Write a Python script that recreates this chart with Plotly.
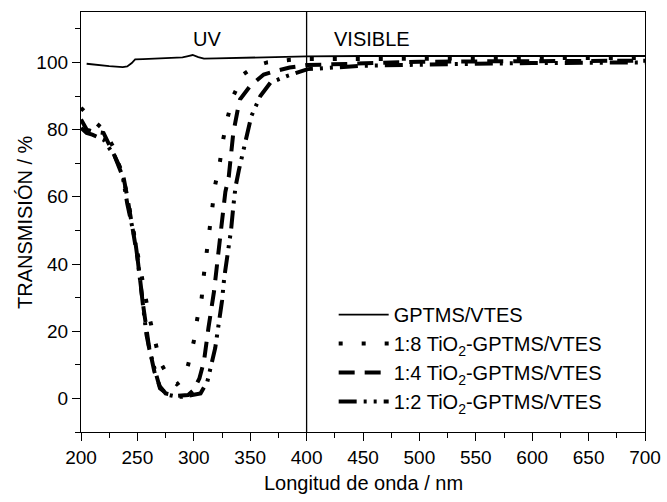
import plotly.graph_objects as go

# ---- data ----
x_ref = [205, 215, 225, 237, 241, 245, 248, 255, 265, 280, 290, 295, 299, 304, 309, 320, 340, 360, 380, 400, 450, 500, 550, 600, 650, 700]
y_ref = [99.6, 99.2, 98.9, 98.6, 98.8, 99.8, 100.9, 101.0, 101.1, 101.2, 101.5, 101.9, 102.2, 101.6, 101.1, 101.2, 101.4, 101.6, 101.7, 101.8, 101.9, 101.9, 101.9, 101.9, 101.9, 101.9]

x_18 = [200, 210, 220, 230, 240, 250, 260, 270, 278, 285, 290, 295, 300, 303, 307, 309, 311, 314, 316.5, 319, 323, 326, 330, 335, 344, 355, 365, 386, 400, 450, 500, 550, 600, 650, 700]
y_18 = [86.5, 83, 80, 74, 62, 44, 25, 11, 6, 4.2, 5.5, 10, 17, 23.6, 30, 37, 43, 50, 57, 63.6, 70, 77, 83.6, 90, 96.5, 99, 100, 100.8, 101, 101, 101.2, 101.2, 101.3, 101.3, 101.3]

x_14 = [200, 205, 210, 220, 230, 237, 241, 246, 250, 255, 260, 265, 270, 275, 285, 295, 300, 305, 309, 313, 318, 321, 324, 326, 328, 331, 333, 335, 339, 341, 350, 362, 371, 385, 400, 450, 500, 550, 600, 650, 700]
y_14 = [83, 80, 79.5, 79, 72, 67, 60, 50, 42, 28, 16, 8, 3.5, 1.5, 0.8, 1.0, 2.5, 6, 11, 21, 32, 41, 49, 55, 61.5, 66, 73, 79, 86, 89, 93, 96.4, 97.3, 98.5, 99.2, 99.8, 100.2, 100.3, 100.4, 100.5, 100.5]

x_12 = [200, 205, 210, 220, 230, 237, 241, 245, 248, 250, 252.5, 255, 258, 261, 266, 270, 278, 285, 290, 295, 300, 306, 312, 315, 319, 322, 325, 327, 330, 333, 335, 337, 340, 344, 348, 351, 359, 368, 383, 401, 450, 500, 550, 600, 650, 700]
y_12 = [80.5, 79, 78.5, 77, 72, 66, 58, 52, 47, 42, 34, 27, 19, 14, 8, 3, 1, 0.5, 0.5, 0.8, 1.0, 1.5, 5, 9, 15, 22, 29, 36, 43, 50, 57, 63, 68, 74, 79, 84, 90, 94, 96, 98, 99, 99.4, 99.6, 99.8, 99.9, 100]

x_ticks = [200, 250, 300, 350, 400, 450, 500, 550, 600, 650, 700]
y_ticks = [0, 20, 40, 60, 80, 100]

FONT = "Arial, Liberation Sans, sans-serif"

fig = go.Figure()
fig.add_trace(go.Scatter(x=x_ref, y=y_ref, mode="lines", name="GPTMS/VTES",
                         legendgroup="a", line=dict(color="black", width=1.8)))
fig.add_trace(go.Scatter(x=x_18, y=y_18, mode="lines", name="1:8 TiO<sub>2</sub>-GPTMS/VTES",
                         legendgroup="b", line=dict(color="black", width=4, dash="4px,19px")))
fig.add_trace(go.Scatter(x=x_14, y=y_14, mode="lines", name="1:4 TiO<sub>2</sub>-GPTMS/VTES",
                         legendgroup="c", line=dict(color="black", width=4, dash="16px,10px")))
fig.add_trace(go.Scatter(x=x_12, y=y_12, mode="lines", name="1:2 TiO<sub>2</sub>-GPTMS/VTES",
                         legendgroup="d", line=dict(color="black", width=4, dash="18px,7px,3px,7px,3px,7px")))

fig.add_shape(type="line", x0=400, x1=400, y0=0, y1=1, xref="x", yref="paper",
              line=dict(color="black", width=1.3))

fig.add_annotation(x=312, y=107, text="UV", showarrow=False, xref="x", yref="y",
                   font=dict(family=FONT, size=20, color="black"))
fig.add_annotation(x=458, y=107, text="VISIBLE", showarrow=False, xref="x", yref="y",
                   font=dict(family=FONT, size=20, color="black"))

# axis titles as annotations (placed in pixels relative to the plot area)
PLOT_W, PLOT_H = 564, 420
fig.add_annotation(x=-(81 - 25) / PLOT_W, y=0.5, xref="paper", yref="paper",
                   text="TRANSMISIÓN / %", textangle=-90, showarrow=False,
                   xanchor="center", yanchor="middle",
                   font=dict(family=FONT, size=20, color="black"))
fig.add_annotation(x=0.5, y=-(483 - 432) / PLOT_H, xref="paper", yref="paper",
                   text="Longitud de onda / nm", showarrow=False,
                   xanchor="center", yanchor="middle",
                   font=dict(family=FONT, size=20, color="black"))

axis_common = dict(showline=True, linecolor="black", linewidth=1.3, mirror=True,
                   ticks="outside", ticklen=8, tickwidth=1.3, tickcolor="black",
                   showgrid=False, zeroline=False, automargin=False,
                   tickfont=dict(family=FONT, size=19, color="black"))

fig.update_xaxes(range=[200, 700], tickvals=x_ticks,
                 minor=dict(dtick=25, tick0=200, ticks="outside", ticklen=5, tickcolor="black", tickwidth=1),
                 **axis_common)
fig.update_yaxes(range=[-10, 115], tickvals=y_ticks,
                 minor=dict(dtick=10, tick0=0, ticks="outside", ticklen=5, tickcolor="black", tickwidth=1),
                 **axis_common)

fig.update_layout(
    width=667, height=502,
    margin=dict(l=81, r=22, t=12, b=70),
    paper_bgcolor="white", plot_bgcolor="white",
    showlegend=True,
    legend=dict(x=0.448, y=0.326, xanchor="left", yanchor="top",
                bgcolor="rgba(0,0,0,0)", borderwidth=0, tracegroupgap=0,
                itemwidth=50,
                font=dict(family=FONT, size=20, color="black")),
)

fig.write_html("out.html", config={"displayModeBar": False},
               post_script="document.body.style.margin='0';")
